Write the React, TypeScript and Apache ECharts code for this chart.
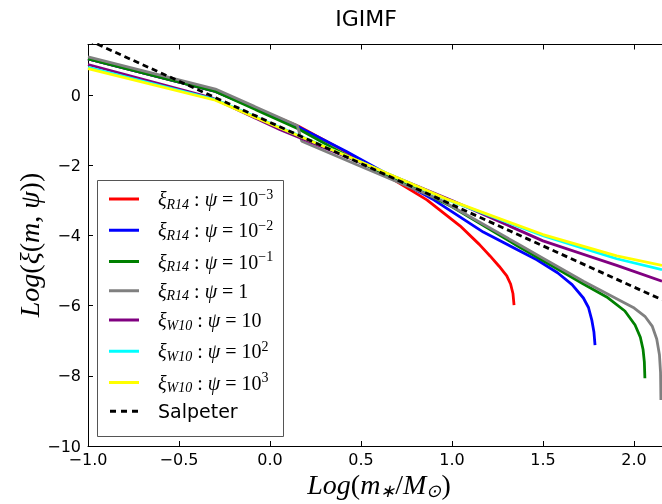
import React, { useEffect, useRef } from "react";
import * as echarts from "echarts";

// ---- axis ranges / ticks ----
const X_MIN = -1.0;
const X_MAX = 2.154;
const X_STEP = 0.5;
const Y_MIN = -10;
const Y_MAX = 1.45;
const Y_STEP = 2;

// ---- series data: [log m, log xi] ----
const r14Psi1em3 = [
  [-1, 1.04], [-0.3, 0.11], [0.157, -0.88], [0.35, -1.42], [0.605, -2.17], [0.862, -2.98],
  [1.044, -3.72], [1.15, -4.25], [1.209, -4.58], [1.26, -4.88], [1.301, -5.15], [1.322, -5.38],
  [1.335, -5.65], [1.341, -5.98],
];
const r14Psi1em2 = [
  [-1, 1.04], [-0.3, 0.11], [0.157, -0.9], [0.42, -1.6], [0.9, -2.98], [1.172, -3.9],
  [1.466, -4.69], [1.58, -5.06], [1.66, -5.4], [1.722, -5.78], [1.75, -6.05], [1.768, -6.4],
  [1.78, -6.75], [1.786, -7.12],
];
const r14Psi1em1 = [
  [-1, 1.04], [-0.3, 0.11], [0.157, -0.96], [0.45, -1.8], [0.8, -2.66], [1.0, -3.18],
  [1.356, -4.28], [1.722, -5.38], [1.85, -5.75], [1.95, -6.15], [2.006, -6.55], [2.035, -6.9],
  [2.05, -7.25], [2.057, -7.6], [2.06, -8.07],
];
const r14Psi1 = [
  [-1, 1.1], [-0.3, 0.18], [0.15, -0.86], [0.175, -1.31], [0.5, -2.03], [0.935, -2.98],
  [1.356, -4.22], [1.722, -5.3], [1.996, -6.05], [2.06, -6.3], [2.1, -6.58], [2.125, -6.95],
  [2.14, -7.4], [2.146, -7.9], [2.148, -8.69],
];
const w10Psi1e1 = [
  [-1, 0.88], [-0.32, -0.07], [0.056, -0.98], [0.5, -1.92], [1.0, -3.0], [1.5, -4.15],
  [1.905, -4.85], [2.154, -5.3],
];
const w10Psi1e2 = [
  [-1, 0.8], [-0.3, -0.12], [0.056, -0.92], [0.5, -1.9], [0.971, -2.97], [1.5, -4.0],
  [1.905, -4.66], [2.154, -4.97],
];
const w10Psi1e3 = [
  [-1, 0.76], [-0.3, -0.14], [0.056, -0.93], [0.5, -1.9], [0.971, -2.96], [1.5, -3.97],
  [1.905, -4.58], [2.154, -4.85],
];
const salpeter = [[-1, 1.58], [2.154, -5.83]];

const seriesNames = ["r3", "r2", "r1", "r0", "w1", "w2", "w3", "Salpeter"];
const seriesColors = ["#ff0000", "#0000ff", "#008000", "#808080", "#800080", "#00ffff", "#ffff00", "#000000"];
const seriesData = [r14Psi1em3, r14Psi1em2, r14Psi1em1, r14Psi1, w10Psi1e1, w10Psi1e2, w10Psi1e3, salpeter];
const legendLabels: Record<string, string> = {
  r3: "{sp| }{it|ξ}{sub|R14}{n| : }{it|ψ}{n| = 10}{sup|−3}",
  r2: "{sp| }{it|ξ}{sub|R14}{n| : }{it|ψ}{n| = 10}{sup|−2}",
  r1: "{sp| }{it|ξ}{sub|R14}{n| : }{it|ψ}{n| = 10}{sup|−1}",
  r0: "{sp| }{it|ξ}{sub|R14}{n| : }{it|ψ}{n| = 1}",
  w1: "{sp| }{it|ξ}{sub|W10}{n| : }{it|ψ}{n| = 10}",
  w2: "{sp| }{it|ξ}{sub|W10}{n| : }{it|ψ}{n| = 10}{sup|2}",
  w3: "{sp| }{it|ξ}{sub|W10}{n| : }{it|ψ}{n| = 10}{sup|3}",
  Salpeter: "{sp| }{sans|Salpeter}",
};
const DASH_ICON = "path://M0,0h6v3h-6z M11,0h6v3h-6z M22,0h6v3h-6z";

const SERIF = "Liberation Serif";
const SANS = "DejaVu Sans";

const fmtNum = (v: number, digits: number) => {
  const s = Math.abs(v).toFixed(digits);
  return v < 0 ? "\u2212" + s : s;
};

export default function App() {
  const ref = useRef<HTMLDivElement>(null);
  useEffect(() => {
    document.body.style.margin = "0";
    const chart = echarts.init(ref.current!, undefined, { renderer: "svg" });
    const axisLine = { show: true, onZero: false, lineStyle: { color: "#000", width: 1 } };
    const axisTick = { show: true, inside: true, length: 5, lineStyle: { color: "#000", width: 1 } };
    const richMath = {
      sp: { width: 14, fontSize: 10 },
      it: { fontFamily: SERIF, fontStyle: "italic", fontSize: 20, lineHeight: 24, color: "#000" },
      n: { fontFamily: SERIF, fontSize: 20, lineHeight: 24, color: "#000" },
      sub: { fontFamily: SERIF, fontStyle: "italic", fontSize: 14, lineHeight: 16, verticalAlign: "bottom", color: "#000" },
      sup: { fontFamily: SERIF, fontSize: 14, lineHeight: 14, verticalAlign: "top", color: "#000" },
      sans: { fontFamily: SANS, fontSize: 19, lineHeight: 24, color: "#000" },
    };
    const labelRich = {
      it: { fontFamily: SERIF, fontStyle: "italic", fontSize: 28, lineHeight: 32, fill: "#000", color: "#000" },
      n: { fontFamily: SERIF, fontSize: 28, lineHeight: 32, fill: "#000", color: "#000" },
      sub: { fontFamily: SERIF, fontStyle: "italic", fontSize: 18, lineHeight: 20, verticalAlign: "bottom", fill: "#000", color: "#000" },
    };
    chart.setOption({
      animation: false,
      grid: { left: 88, right: 0, top: 44.5, bottom: 58, containLabel: false },
      xAxis: [
        {
          type: "value", min: X_MIN, max: X_MAX, interval: X_STEP, position: "bottom",
          axisLine, axisTick, splitLine: { show: false },
          axisLabel: {
            showMaxLabel: false, margin: 5, color: "#000", fontFamily: SANS, fontSize: 16,
            formatter: (v: number) => fmtNum(v, 1),
          },
        },
        {
          type: "value", min: X_MIN, max: X_MAX, interval: X_STEP, position: "top",
          axisLine, axisTick, splitLine: { show: false }, axisLabel: { show: false },
        },
      ],
      yAxis: [
        {
          type: "value", min: Y_MIN, max: Y_MAX, interval: Y_STEP,
          axisLine, axisTick, splitLine: { show: false },
          axisLabel: {
            showMaxLabel: false, margin: 7, color: "#000", fontFamily: SANS, fontSize: 16,
            formatter: (v: number) => fmtNum(v, 0),
          },
        },
      ],
      legend: {
        show: true, orient: "vertical", left: 97, top: 180, z: 10,
        padding: [7, 5, 8, 12], itemGap: 7.25, itemWidth: 30, itemHeight: 3,
        data: seriesNames.map((name) => ({ name, icon: name === "Salpeter" ? DASH_ICON : "rect" })),
        formatter: (name: string) => legendLabels[name],
        textStyle: { rich: richMath, color: "#000" },
        selectedMode: false,
      },
      graphic: [
        {
          type: "rect", z: 3,
          shape: { x: 97.5, y: 180.5, width: 186, height: 256 },
          style: { fill: "#fff", stroke: "#555", lineWidth: 1 },
        },
        {
          type: "text", x: 366, y: 18,
          style: { text: "IGIMF", font: `22px "${SANS}"`, fill: "#000", textAlign: "center", textVerticalAlign: "middle" },
        },
        {
          type: "text", x: 379, y: 484,
          style: {
            text: "{it|Log}{n|(}{it|m}{sub|∗}{n|/}{it|M}{sub|⊙}{n|)}",
            rich: labelRich, textAlign: "center", textVerticalAlign: "middle",
          },
        },
        {
          type: "text", x: 29, y: 245, rotation: Math.PI / 2,
          style: {
            text: "{it|Log}{n|(}{it|ξ}{n|(}{it|m}{n|, }{it|ψ}{n|))}",
            rich: labelRich, textAlign: "center", textVerticalAlign: "middle",
          },
        },
      ],
      series: seriesNames.map((name, i) => ({
        name,
        type: "line",
        xAxisIndex: 0,
        yAxisIndex: 0,
        data: seriesData[i],
        symbol: "none",
        showSymbol: false,
        clip: true,
        z: 2 + i * 0.01,
        itemStyle: { color: seriesColors[i] },
        lineStyle: {
          color: seriesColors[i],
          width: 2.8,
          type: name === "Salpeter" ? [6, 4] : "solid",
        },
      })),
    });
    return () => chart.dispose();
  }, []);
  return <div ref={ref} style={{ position: "fixed", left: 0, top: 0, width: 662, height: 504 }} />;
}
